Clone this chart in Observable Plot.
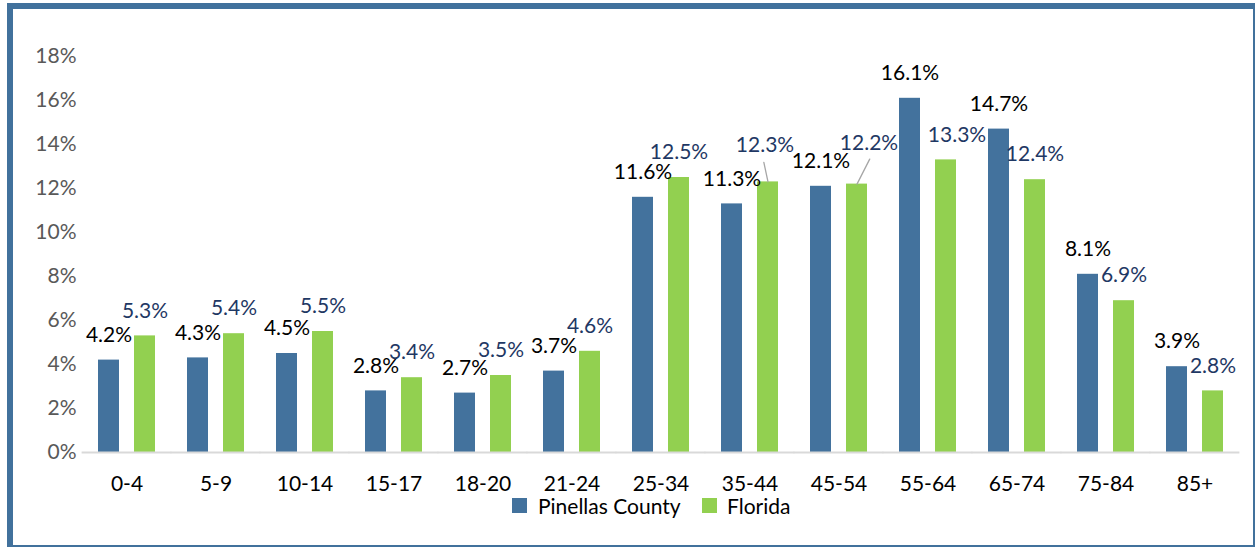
<!DOCTYPE html>
<html>
<head>
<meta charset="utf-8">
<script src="https://cdn.jsdelivr.net/npm/d3@7"></script>
<script src="https://cdn.jsdelivr.net/npm/@observablehq/plot@0.6"></script>
<style>
  html, body { margin: 0; padding: 0; background: #fff; }
  #frame {
    position: absolute; left: 7px; top: 3px;
    width: 1240px; height: 536px;
    border-style: solid; border-color: #41719C;
    border-width: 6px 2px 2px 6px;
    background: #fff; overflow: hidden;
    font-family: Lato, "Open Sans", sans-serif;
  }
  #chart svg [aria-label="y-axis tick label"] { fill: #595959; }
  #chart svg [aria-label="fx-axis tick label"] { fill: #000; }
  #legend { height: 30px; display: flex; justify-content: center; padding-left: 58px; margin-top: -10px; }
  #legend > div { margin: 0; }
</style>
</head>
<body>
<div id="frame">
  <div id="chart"></div>
  <div id="legend"></div>
</div>
<script>
const ages = ["0-4","5-9","10-14","15-17","18-20","21-24","25-34","35-44","45-54","55-64","65-74","75-84","85+"];
const series = ["Pinellas County", "Florida"];
const pinellas = [4.2, 4.3, 4.5, 2.8, 2.7, 3.7, 11.6, 11.3, 12.1, 16.1, 14.7, 8.1, 3.9];
const florida = [5.3, 5.4, 5.5, 3.4, 3.5, 4.6, 12.5, 12.3, 12.2, 13.3, 12.4, 6.9, 2.8];
const yTicks = [0, 2, 4, 6, 8, 10, 12, 14, 16, 18];
const colors = ["#43729D", "#92D050"];
const labelColors = ["#000000", "#1F3864"];

const rows = [];
ages.forEach((a, i) => {
  rows.push({age: a, series: series[0], value: pinellas[i]});
  rows.push({age: a, series: series[1], value: florida[i]});
});
const pinRows = rows.filter(d => d.series === series[0]);
const flaRows = rows.filter(d => d.series === series[1]);
const flaNormal = flaRows.filter(d => !["35-44", "45-54", "55-64"].includes(d.age));
const fmt = d => d.value.toFixed(1) + "%";

const leaderShape = {
  draw(context, l) { context.moveTo(0, 0); context.lineTo(0, -l); }
};

const plot = Plot.plot({
  width: 1240,
  height: 490,
  marginLeft: 65,
  marginRight: 11,
  marginTop: 47,
  marginBottom: 47,
  style: {fontFamily: "Lato, 'Open Sans', sans-serif", fontSize: "21px", background: "#fff", overflow: "visible"},
  fx: {domain: ages, paddingInner: 0.363, paddingOuter: 0.179, label: null, tickSize: 0, tickPadding: 24},
  x: {domain: series, paddingInner: 0.4167, paddingOuter: 0, axis: null},
  y: {domain: [0, 18], ticks: yTicks, tickFormat: d => d + "%", tickSize: 0, tickPadding: 22, label: null},
  color: {domain: series, range: colors},
  marks: [
    Plot.barY(rows, {fx: "age", x: "series", y: "value", fill: "series"}),
    Plot.ruleY([0], {stroke: "#D9D9D9", strokeWidth: 2, insetLeft: -16.4, insetRight: -16.4}),
    Plot.text(pinRows, {fx: "age", x: "series", y: "value", text: fmt, dy: -25, fill: labelColors[0]}),
    Plot.text(flaNormal, {fx: "age", x: "series", y: "value", text: fmt, dy: -25, fill: labelColors[1]}),
    Plot.text(flaRows.filter(d => d.age === "35-44"), {fx: "age", x: "series", y: "value", text: fmt, dx: -3, dy: -37, fill: labelColors[1]}),
    Plot.text(flaRows.filter(d => d.age === "45-54"), {fx: "age", x: "series", y: "value", text: fmt, dx: 12, dy: -41, fill: labelColors[1]}),
    Plot.text(flaRows.filter(d => d.age === "55-64"), {fx: "age", x: "series", y: "value", text: fmt, dx: 11, dy: -25, fill: labelColors[1]}),
    Plot.vector(flaRows.filter(d => d.age === "35-44"), {fx: "age", x: "series", y: "value", length: 20, rotate: -12, anchor: "start", shape: leaderShape, stroke: "#A6A6A6", strokeWidth: 1.3}),
    Plot.vector(flaRows.filter(d => d.age === "45-54"), {fx: "age", x: "series", y: "value", length: 28, rotate: 27, anchor: "start", shape: leaderShape, stroke: "#A6A6A6", strokeWidth: 1.3})
  ]
});
document.getElementById("chart").appendChild(plot);

const legend = Plot.legend({
  color: {domain: series, range: colors},
  swatchSize: 15,
  style: {fontFamily: "Lato, 'Open Sans', sans-serif", fontSize: "21px", color: "#000"}
});
document.getElementById("legend").appendChild(legend);
</script>
</body>
</html>
